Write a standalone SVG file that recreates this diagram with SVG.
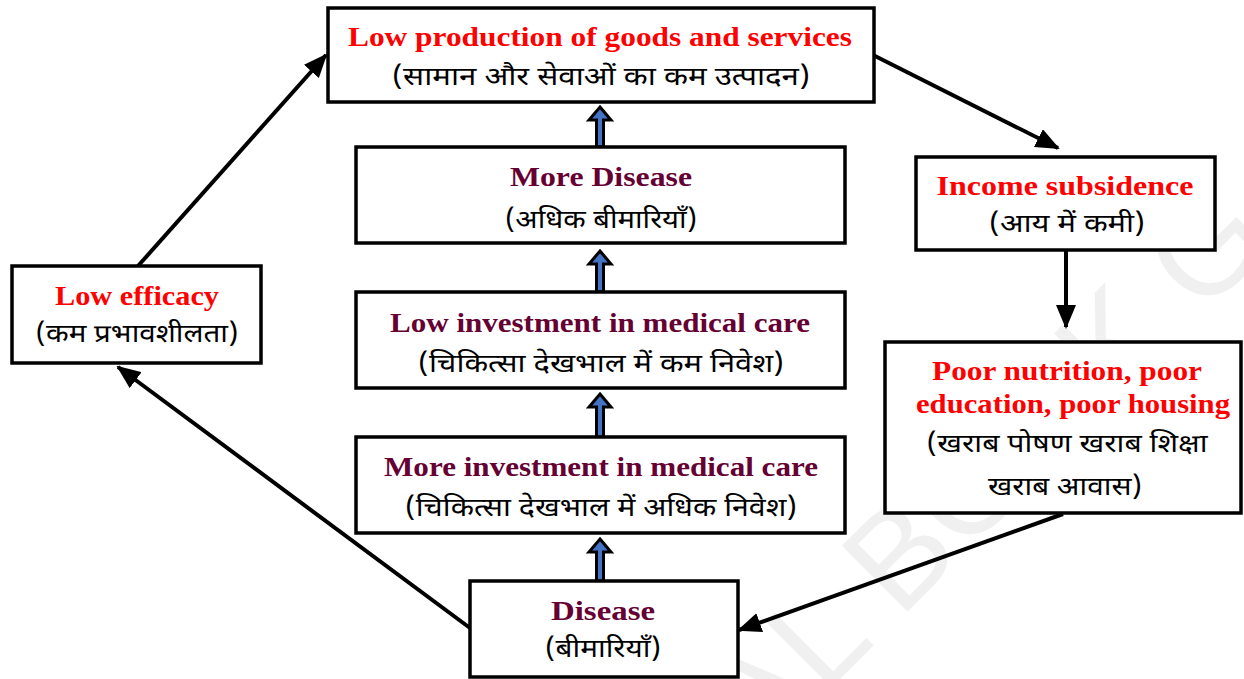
<svg xmlns="http://www.w3.org/2000/svg" width="1244" height="679" viewBox="0 0 1244 679">
<defs>
<style>
.box{fill:#fff;stroke:#000;stroke-width:3.5}
.en{font-family:"Liberation Serif","Times New Roman",serif;font-weight:bold;font-size:27px;text-anchor:middle}
.red{fill:#ff0000}
.mar{fill:#660033}
.hi{font-family:"Noto Sans Devanagari","Lohit Devanagari","Noto Sans",sans-serif;font-size:25px;fill:#000;text-anchor:middle}
.con{fill:none;stroke:#000;stroke-width:4}
.blk{fill:#4472c4;stroke:#000;stroke-width:3;stroke-linejoin:miter}
.wm{font-family:"Liberation Sans",Arial,sans-serif;font-size:135px;fill:#f0f0f0}
</style>
<marker id="ah" markerUnits="userSpaceOnUse" markerWidth="24" markerHeight="20" viewBox="0 0 24 20" refX="22" refY="10" orient="auto">
<path d="M0,0 L24,10 L0,20 Z" fill="#000"/>
</marker>
</defs>
<rect width="1244" height="679" fill="#fff"/>
<text class="wm" transform="translate(760,759) rotate(-45)">AL BOOK G</text>

<g id="connectors">
<path class="con" d="M470,628 L118,367" marker-end="url(#ah)"/>
<path class="con" d="M138,266 L326,55" marker-end="url(#ah)"/>
<path class="con" d="M873,55 L1058,148" marker-end="url(#ah)"/>
<path class="con" d="M1066,251 L1066,327" marker-end="url(#ah)"/>
<path class="con" d="M1063,514 L739,630" marker-end="url(#ah)"/>
<path class="blk" d="M600,107 L611,120 L603.5,120 L603.5,147 L596.5,147 L596.5,120 L589,120 Z"/>
<path class="blk" d="M600,251 L611,264 L603.5,264 L603.5,292 L596.5,292 L596.5,264 L589,264 Z"/>
<path class="blk" d="M600,394 L611,407 L603.5,407 L603.5,437 L596.5,437 L596.5,407 L589,407 Z"/>
<path class="blk" d="M600,539 L611,552 L603.5,552 L603.5,581 L596.5,581 L596.5,552 L589,552 Z"/>
</g>

<g id="node-production">
<rect class="box" x="328" y="8" width="546" height="94"/>
<text class="en red" x="600" y="46" textLength="504" lengthAdjust="spacingAndGlyphs">Low production of goods and services</text>
<text class="hi" x="601" y="85" textLength="418" lengthAdjust="spacingAndGlyphs">(सामान और सेवाओं का कम उत्पादन)</text>
</g>

<g id="node-more-disease">
<rect class="box" x="356" y="147" width="489" height="96"/>
<text class="en mar" x="601" y="186" textLength="182" lengthAdjust="spacingAndGlyphs">More Disease</text>
<text class="hi" x="601" y="228" textLength="192" lengthAdjust="spacingAndGlyphs">(अधिक बीमारियाँ)</text>
</g>

<g id="node-low-investment">
<rect class="box" x="356" y="292" width="489" height="96"/>
<text class="en mar" x="600" y="332" textLength="420" lengthAdjust="spacingAndGlyphs">Low investment in medical care</text>
<text class="hi" x="601" y="372" textLength="366" lengthAdjust="spacingAndGlyphs">(चिकित्सा देखभाल में  कम निवेश)</text>
</g>

<g id="node-more-investment">
<rect class="box" x="356" y="437" width="489" height="96"/>
<text class="en mar" x="601" y="476" textLength="434" lengthAdjust="spacingAndGlyphs">More investment in medical care</text>
<text class="hi" x="601" y="516" textLength="392" lengthAdjust="spacingAndGlyphs">(चिकित्सा देखभाल में  अधिक निवेश)</text>
</g>

<g id="node-disease">
<rect class="box" x="470" y="581" width="268" height="96"/>
<text class="en mar" x="603" y="620" textLength="104" lengthAdjust="spacingAndGlyphs">Disease</text>
<text class="hi" x="603" y="657" textLength="116" lengthAdjust="spacingAndGlyphs">(बीमारियाँ)</text>
</g>

<g id="node-low-efficacy">
<rect class="box" x="12" y="266" width="249" height="97"/>
<text class="en red" x="137" y="305" textLength="164" lengthAdjust="spacingAndGlyphs">Low efficacy</text>
<text class="hi" x="137" y="342" textLength="203" lengthAdjust="spacingAndGlyphs">(कम प्रभावशीलता)</text>
</g>

<g id="node-income">
<rect class="box" x="916" y="157" width="299" height="93"/>
<text class="en red" x="1065" y="195" textLength="257" lengthAdjust="spacingAndGlyphs">Income subsidence</text>
<text class="hi" x="1067" y="232" textLength="156" lengthAdjust="spacingAndGlyphs">(आय में  कमी)</text>
</g>

<g id="node-poor">
<rect class="box" x="885" y="342" width="356" height="171"/>
<text class="en red" x="1067" y="380" textLength="270" lengthAdjust="spacingAndGlyphs">Poor nutrition, poor</text>
<text class="en red" x="1073" y="413" textLength="314" lengthAdjust="spacingAndGlyphs">education, poor housing</text>
<text class="hi" x="1067" y="452" textLength="281" lengthAdjust="spacingAndGlyphs">(खराब पोषण खराब शिक्षा</text>
<text class="hi" x="1065" y="495" textLength="154" lengthAdjust="spacingAndGlyphs">खराब आवास)</text>
</g>
</svg>
